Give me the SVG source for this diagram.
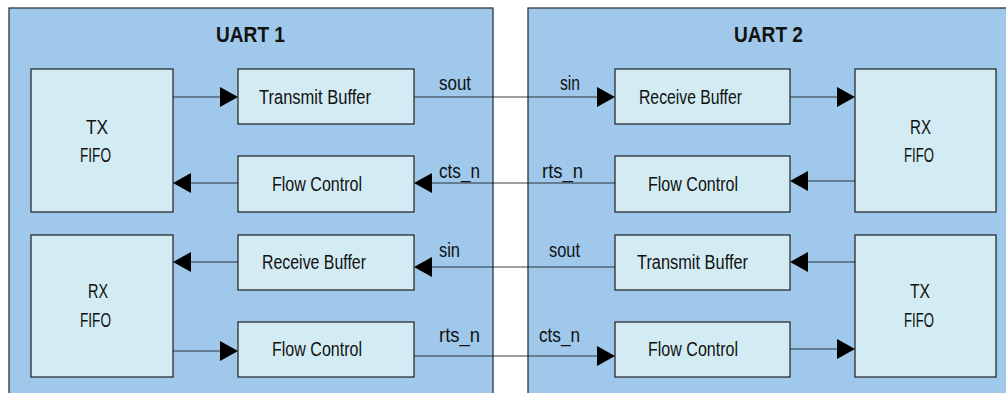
<svg xmlns="http://www.w3.org/2000/svg" width="1006" height="393" viewBox="0 0 1006 393">
<defs>
<style>
.uart{fill:#9fc8ea;stroke:#2a3540;stroke-width:1.3}
.box{fill:#d3ecf4;stroke:#1e1e1e;stroke-width:1.2}
.t{font-family:"Liberation Sans",Arial,sans-serif;font-size:20px;fill:#111}
.ttl{font-family:"Liberation Sans",Arial,sans-serif;font-size:22px;font-weight:bold;fill:#111}
.w{stroke:#000;stroke-opacity:0.5;stroke-width:1.6;fill:none}
.a{fill:#000}
</style>
</defs>
<rect width="1006" height="393" fill="#ffffff"/>
<g id="uart1">
<rect class="uart" x="9" y="8" width="484" height="400"/>
<text class="ttl" x="216" y="42" textLength="69" lengthAdjust="spacingAndGlyphs">UART 1</text>
</g>
<g id="uart2">
<rect class="uart" x="528" y="8" width="490" height="400"/>
<text class="ttl" x="734" y="42" textLength="69" lengthAdjust="spacingAndGlyphs">UART 2</text>
</g>
<g id="u1-txfifo">
<rect class="box" x="31" y="69" width="142" height="143"/>
<text class="t" x="86" y="134" textLength="22" lengthAdjust="spacingAndGlyphs">TX</text>
<text class="t" x="80" y="162" textLength="31" lengthAdjust="spacingAndGlyphs">FIFO</text>
</g>
<g id="u1-txbuf">
<rect class="box" x="238" y="69" width="176" height="55"/>
<text class="t" x="259" y="104" textLength="112" lengthAdjust="spacingAndGlyphs">Transmit Buffer</text>
</g>
<g id="u1-fc1">
<rect class="box" x="238" y="156" width="176" height="56"/>
<text class="t" x="272" y="191" textLength="90" lengthAdjust="spacingAndGlyphs">Flow Control</text>
</g>
<g id="u1-rxfifo">
<rect class="box" x="31" y="235" width="142" height="142"/>
<text class="t" x="88" y="298" textLength="20" lengthAdjust="spacingAndGlyphs">RX</text>
<text class="t" x="80" y="327" textLength="31" lengthAdjust="spacingAndGlyphs">FIFO</text>
</g>
<g id="u1-rxbuf">
<rect class="box" x="238" y="235" width="176" height="55"/>
<text class="t" x="262" y="269" textLength="104" lengthAdjust="spacingAndGlyphs">Receive Buffer</text>
</g>
<g id="u1-fc2">
<rect class="box" x="238" y="322" width="176" height="55"/>
<text class="t" x="272" y="356" textLength="90" lengthAdjust="spacingAndGlyphs">Flow Control</text>
</g>
<g id="u2-rxbuf">
<rect class="box" x="615" y="69" width="175" height="55"/>
<text class="t" x="639" y="104" textLength="103" lengthAdjust="spacingAndGlyphs">Receive Buffer</text>
</g>
<g id="u2-fc1">
<rect class="box" x="615" y="156" width="175" height="56"/>
<text class="t" x="648" y="191" textLength="90" lengthAdjust="spacingAndGlyphs">Flow Control</text>
</g>
<g id="u2-rxfifo">
<rect class="box" x="855" y="69" width="141" height="143"/>
<text class="t" x="910" y="134" textLength="21" lengthAdjust="spacingAndGlyphs">RX</text>
<text class="t" x="904" y="162" textLength="30" lengthAdjust="spacingAndGlyphs">FIFO</text>
</g>
<g id="u2-txbuf">
<rect class="box" x="615" y="235" width="175" height="55"/>
<text class="t" x="637" y="269" textLength="111" lengthAdjust="spacingAndGlyphs">Transmit Buffer</text>
</g>
<g id="u2-fc2">
<rect class="box" x="615" y="322" width="175" height="55"/>
<text class="t" x="648" y="356" textLength="90" lengthAdjust="spacingAndGlyphs">Flow Control</text>
</g>
<g id="u2-txfifo">
<rect class="box" x="855" y="235" width="141" height="142"/>
<text class="t" x="910" y="298" textLength="20" lengthAdjust="spacingAndGlyphs">TX</text>
<text class="t" x="904" y="327" textLength="30" lengthAdjust="spacingAndGlyphs">FIFO</text>
</g>
<g id="connectors">
<line class="w" x1="173" y1="97" x2="222" y2="97"/>
<polygon class="a" points="220,87 238,97 220,107"/>
<line class="w" x1="414" y1="97" x2="599" y2="97"/>
<polygon class="a" points="597,87 615,97 597,107"/>
<line class="w" x1="790" y1="97" x2="839" y2="97"/>
<polygon class="a" points="837,87 855,97 837,107"/>
<line class="w" x1="238" y1="183" x2="189" y2="183"/>
<polygon class="a" points="191,173 173,183 191,193"/>
<line class="w" x1="615" y1="183" x2="430" y2="183"/>
<polygon class="a" points="432,173 414,183 432,193"/>
<line class="w" x1="855" y1="181" x2="806" y2="181"/>
<polygon class="a" points="808,171 790,181 808,191"/>
<line class="w" x1="238" y1="262" x2="189" y2="262"/>
<polygon class="a" points="191,252 173,262 191,272"/>
<line class="w" x1="615" y1="267" x2="430" y2="267"/>
<polygon class="a" points="432,257 414,267 432,277"/>
<line class="w" x1="855" y1="262" x2="806" y2="262"/>
<polygon class="a" points="808,252 790,262 808,272"/>
<line class="w" x1="173" y1="351" x2="222" y2="351"/>
<polygon class="a" points="220,341 238,351 220,361"/>
<line class="w" x1="414" y1="356" x2="599" y2="356"/>
<polygon class="a" points="597,346 615,356 597,366"/>
<line class="w" x1="790" y1="349" x2="839" y2="349"/>
<polygon class="a" points="837,339 855,349 837,359"/>
</g>
<g id="labels">
<text class="t" x="439" y="90" textLength="32" lengthAdjust="spacingAndGlyphs">sout</text>
<text class="t" x="560" y="90" textLength="20" lengthAdjust="spacingAndGlyphs">sin</text>
<text class="t" x="439" y="178" textLength="41" lengthAdjust="spacingAndGlyphs">cts_n</text>
<text class="t" x="542" y="178" textLength="41" lengthAdjust="spacingAndGlyphs">rts_n</text>
<text class="t" x="439" y="257" textLength="21" lengthAdjust="spacingAndGlyphs">sin</text>
<text class="t" x="549" y="257" textLength="31" lengthAdjust="spacingAndGlyphs">sout</text>
<text class="t" x="439" y="342" textLength="41" lengthAdjust="spacingAndGlyphs">rts_n</text>
<text class="t" x="539" y="342" textLength="41" lengthAdjust="spacingAndGlyphs">cts_n</text>
</g>
</svg>
